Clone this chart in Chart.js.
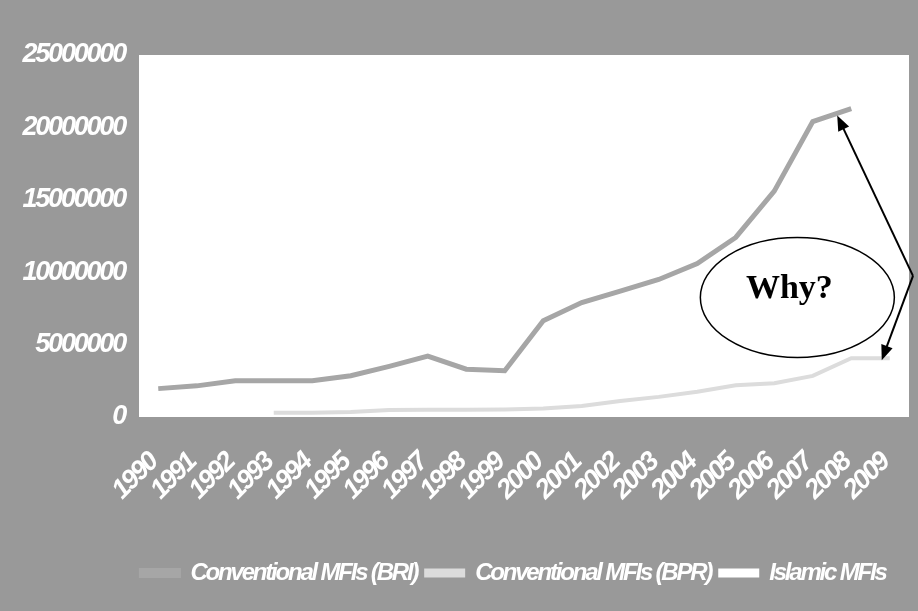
<!DOCTYPE html>
<html>
<head>
<meta charset="utf-8">
<script src="https://cdn.jsdelivr.net/npm/chart.js@4.4.1/dist/chart.umd.min.js"></script>
<style>
  html, body { margin: 0; padding: 0; background: #999999; }
</style>
</head>
<body>
<canvas id="diagram" width="918" height="611"></canvas>
<script>
// data
var years = ['1990', '1991', '1992', '1993', '1994', '1995', '1996', '1997', '1998', '1999',
             '2000', '2001', '2002', '2003', '2004', '2005', '2006', '2007', '2008', '2009'];
var briValues = [1960000, 2150000, 2500000, 2500000, 2500000, 2850000, 3500000, 4200000, 3300000, 3200000,
                 6650000, 7900000, 8700000, 9500000, 10600000, 12400000, 15600000, 20400000, 21300000, null];
var bprValues = [null, null, null, 300000, 300000, 350000, 480000, 500000, 500000, 520000,
                 580000, 760000, 1100000, 1390000, 1750000, 2190000, 2330000, 2840000, 4060000, 4060000];
var islamicValues = [20000, 20000, 20000, 20000, 20000, 20000, 30000, 30000, 30000, 30000,
                     40000, 40000, 50000, 60000, 70000, 80000, 90000, 100000, 120000, 140000];
var seriesNames = ['Conventional MFIs (BRI)', 'Conventional MFIs (BPR)', 'Islamic MFIs'];
var yMax = 25000000;
var yStep = 5000000;

var tickFont = { family: "'Liberation Sans', Arial, sans-serif", size: 27, style: 'italic', weight: 'bold' };
var legendFont = { family: "'Liberation Sans', Arial, sans-serif", size: 24, style: 'italic', weight: 'bold' };
var squeeze = '-2.2px';   // the original text is very condensed

// white plot area + condensed text
var plotBackground = {
  id: 'plotBackground',
  beforeUpdate: function(chart) { chart.ctx.letterSpacing = squeeze; },
  beforeLayout: function(chart) { chart.ctx.letterSpacing = squeeze; },
  afterLayout: function(chart) {
    // the legend sits right of centre in the original
    chart.legend.left += 59;
    chart.legend.right += 59;
  },
  beforeDraw: function(chart) {
    var ctx = chart.ctx, a = chart.chartArea;
    ctx.letterSpacing = squeeze;
    ctx.save();
    ctx.fillStyle = '#999999';
    ctx.fillRect(0, 0, chart.width, chart.height);
    ctx.fillStyle = '#ffffff';
    ctx.fillRect(a.left, a.top, a.right - a.left, a.bottom - a.top);
    ctx.restore();
  }
};

// "Why?" bubble and the two arrows
function arrow(ctx, x0, y0, x1, y1) {
  var ang = Math.atan2(y1 - y0, x1 - x0), len = 15, half = 6;
  ctx.beginPath();
  ctx.moveTo(x0, y0);
  ctx.lineTo(x1 - Math.cos(ang) * len * 0.8, y1 - Math.sin(ang) * len * 0.8);
  ctx.stroke();
  ctx.beginPath();
  ctx.moveTo(x1, y1);
  ctx.lineTo(x1 - Math.cos(ang) * len + Math.sin(ang) * half, y1 - Math.sin(ang) * len - Math.cos(ang) * half);
  ctx.lineTo(x1 - Math.cos(ang) * len - Math.sin(ang) * half, y1 - Math.sin(ang) * len + Math.cos(ang) * half);
  ctx.closePath();
  ctx.fill();
}

var whyNote = {
  id: 'whyNote',
  afterDraw: function(chart) {
    var ctx = chart.ctx, xs = chart.scales.x, ys = chart.scales.y, a = chart.chartArea;
    var cx = xs.getPixelForValue(16.6), cy = ys.getPixelForValue(8250000);
    ctx.save();
    ctx.letterSpacing = '0px';
    ctx.strokeStyle = '#000000';
    ctx.fillStyle = '#000000';
    ctx.lineWidth = 1.5;
    ctx.beginPath();
    ctx.ellipse(cx, cy, 97, 60, 0, 0, Math.PI * 2);
    ctx.stroke();
    ctx.font = "bold 34px 'Liberation Serif', 'Times New Roman', serif";
    ctx.textAlign = 'center';
    ctx.textBaseline = 'alphabetic';
    ctx.fillText('Why?', cx - 8, cy);

    var px = a.right + 4, py = ys.getPixelForValue(9750000);
    ctx.lineWidth = 2;
    arrow(ctx, px, py, xs.getPixelForValue(18) - 14, ys.getPixelForValue(briValues[18]) + 7);
    arrow(ctx, px, py, xs.getPixelForValue(19) - 8, ys.getPixelForValue(bprValues[19]) + 2);
    ctx.restore();
  }
};

var ctx = document.getElementById('diagram').getContext('2d');
var chart = new Chart(ctx, {
  type: 'line',
  data: {
    labels: years,
    datasets: [
      { label: seriesNames[0], data: briValues, borderColor: '#a6a6a6', backgroundColor: '#a3a3a3', borderWidth: 5 },
      { label: seriesNames[1], data: bprValues, borderColor: '#dcdcdc', backgroundColor: '#dcdcdc', borderWidth: 4 },
      { label: seriesNames[2], data: islamicValues, borderColor: '#ffffff', backgroundColor: '#ffffff', borderWidth: 4 }
    ]
  },
  options: {
    responsive: false,
    animation: false,
    elements: { point: { radius: 0 }, line: { tension: 0 } },
    layout: { padding: { top: 55, right: 9, left: 0, bottom: 16 } },
    scales: {
      x: {
        offset: true,
        grid: { display: false },
        border: { display: false },
        ticks: { color: '#ffffff', font: tickFont, minRotation: 45, maxRotation: 45, padding: 22,
                 labelOffset: -5, autoSkip: false },
        afterFit: function(scale) {
          scale.height = 135;
          scale.paddingLeft = 0;
          scale.paddingRight = 0;
        }
      },
      y: {
        min: 0,
        max: yMax,
        grid: { display: false },
        border: { display: false },
        ticks: { color: '#ffffff', font: tickFont, stepSize: yStep, padding: 6,
                 callback: function(v) { return String(v); } },
        afterFit: function(scale) { scale.width = 139; }
      }
    },
    plugins: {
      legend: {
        position: 'bottom',
        labels: { color: '#ffffff', font: legendFont, boxWidth: 37, boxHeight: 5, padding: 9 }
      },
      tooltip: { enabled: false }
    }
  },
  plugins: [plotBackground, whyNote]
});
</script>
</body>
</html>
